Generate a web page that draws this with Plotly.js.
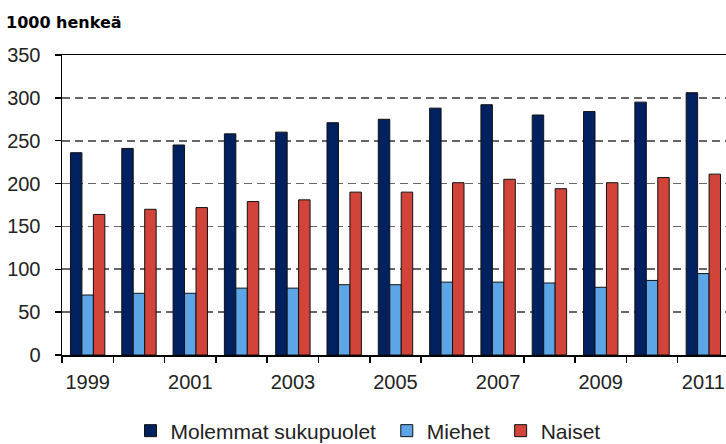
<!DOCTYPE html>
<html>
<head>
<meta charset="utf-8">
<script src="https://cdn.plot.ly/plotly-3.0.1.min.js"></script>
<style>
  html, body { margin: 0; padding: 0; background: #fff; overflow: hidden; }
  #chart { width: 740px; height: 480px; }
</style>
</head>
<body>
<div id="chart"></div>
<script>
const years = ["1999","2000","2001","2002","2003","2004","2005","2006","2007","2008","2009","2010","2011"];
const tickLabels = ["1999","","2001","","2003","","2005","","2007","","2009","","2011"];
const molemmat = [236, 241, 245, 258, 260, 271, 275, 288, 292, 280, 284, 295, 306];
const miehet   = [70, 72, 72, 78, 78, 82, 82, 85, 85, 84, 79, 87, 95];
const naiset   = [164, 170, 172, 179, 181, 190, 190, 201, 205, 194, 201, 207, 211];
const seriesNames = ["Molemmat sukupuolet", "Miehet", "Naiset"];
const seriesColors = ["#00205F", "#5CA6E8", "#D2443A"];

const font = "Liberation Sans, Arial, sans-serif";
const data = [molemmat, miehet, naiset].map((vals, i) => ({
  type: "bar",
  x: years,
  y: vals,
  name: seriesNames[i] + "\u00a0",
  marker: { color: seriesColors[i], line: { color: "#111", width: 1 } },
  hoverinfo: "skip"
}));

const H = 480;
const layout = {
  width: 740,
  height: H,
  margin: { l: 62, r: 11, t: 55, b: H - 355 },
  paper_bgcolor: "#fff",
  plot_bgcolor: "#fff",
  barmode: "group",
  bargap: 0.33,
  bargroupgap: 0,
  showlegend: true,
  title: {
    text: "<b>1000 henkeä</b>",
    font: { family: "DejaVu Sans, sans-serif", size: 16, color: "#000" },
    x: 6 / 740, xanchor: "left",
    y: 1 - 22 / H, yanchor: "middle",
    xref: "container", yref: "container"
  },
  xaxis: {
    type: "category",
    tickvals: years,
    ticktext: tickLabels,
    tickangle: 0,
    tickson: "boundaries",
    ticks: "outside",
    ticklen: 6,
    tickwidth: 1.5,
    tickcolor: "#000",
    ticklabelstandoff: 8,
    showline: true,
    linecolor: "#000",
    linewidth: 1.5,
    mirror: true,
    showgrid: false,
    automargin: false,
    tickfont: { family: font, size: 20, color: "#222" },
    range: [-0.5, 12.5],
    fixedrange: true
  },
  yaxis: {
    range: [0, 350],
    dtick: 50,
    tick0: 0,
    ticks: "outside",
    ticklen: 6,
    tickwidth: 1.5,
    tickcolor: "#000",
    ticklabelstandoff: 10,
    showline: true,
    linecolor: "#000",
    linewidth: 1.5,
    mirror: true,
    showgrid: true,
    gridcolor: "#666666",
    gridwidth: 1.6,
    griddash: "8px,5px",
    zeroline: false,
    automargin: false,
    tickfont: { family: font, size: 20, color: "#222" },
    fixedrange: true
  },
  legend: {
    orientation: "h",
    x: (371 - 62) / 667, xanchor: "center",
    y: -76 / 300, yanchor: "middle",
    font: { family: font, size: 21, color: "#222" },
    itemwidth: 30,
    traceorder: "normal"
  }
};

Plotly.newPlot("chart", data, layout, { displayModeBar: false, staticPlot: true });
</script>
</body>
</html>
